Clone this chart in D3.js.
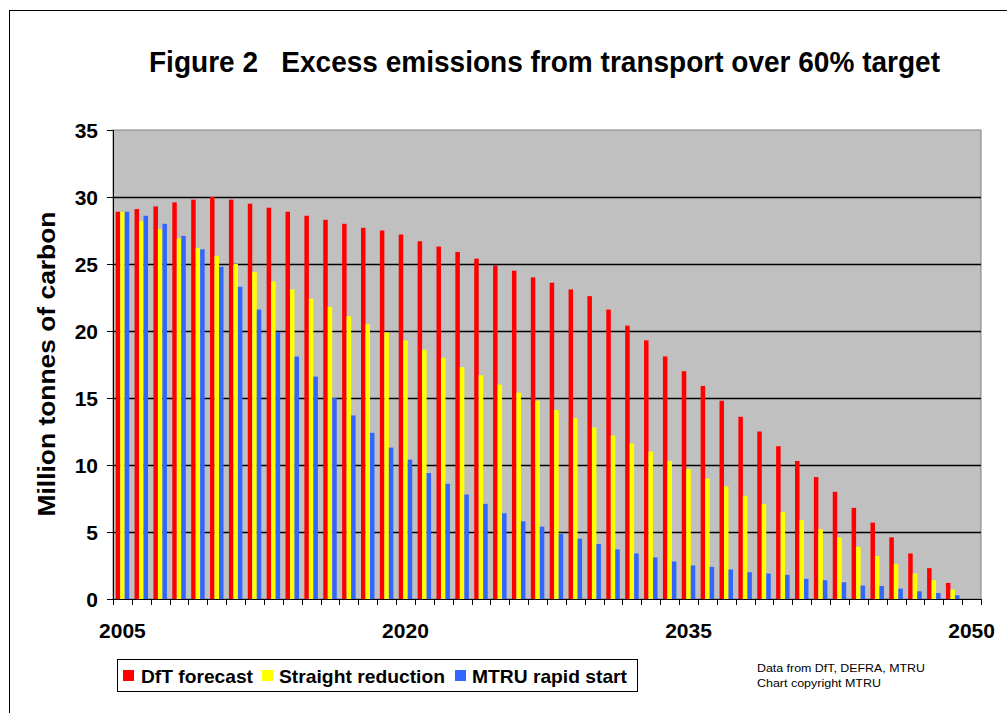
<!DOCTYPE html>
<html>
<head>
<meta charset="utf-8">
<script src="https://cdn.jsdelivr.net/npm/d3@7"></script>
<style>
  html, body { margin: 0; padding: 0; background: #fff; }
  svg { display: block; font-family: "Liberation Sans", Arial, sans-serif; }
</style>
</head>
<body>
<svg id="chart" width="1007" height="713"></svg>
<script>
// Years on the category axis (2050 is the end point with no excess)
const years = d3.range(2005, 2051);
const seriesNames = ["DfT forecast", "Straight reduction", "MTRU rapid start"];
const seriesColors = ["#ff0000", "#ffff00", "#3366ff"];

// Excess emissions, million tonnes of carbon
const dftForecast = [
  28.9, 29.1, 29.3, 29.6, 29.8, 30.0, 29.8, 29.5, 29.2, 28.9, 28.6, 28.3, 28.0, 27.7, 27.5, 27.2,
  26.7, 26.3, 25.9, 25.4, 24.9, 24.5, 24.0, 23.6, 23.1, 22.6, 21.6, 20.4, 19.3, 18.1,
  17.0, 15.9, 14.8, 13.6, 12.5, 11.4, 10.3, 9.1, 8.0, 6.8, 5.7, 4.6, 3.4, 2.3, 1.2, null
];
const straightReduction = [
  28.9, 28.2, 27.6, 26.9, 26.2, 25.6, 25.0, 24.4, 23.7, 23.1, 22.4, 21.8, 21.1, 20.5, 19.9,
  19.3, 18.6, 18.0, 17.3, 16.7, 16.0, 15.4, 14.8, 14.1, 13.5, 12.8, 12.2, 11.6, 11.0, 10.3,
  9.7, 9.0, 8.4, 7.7, 7.1, 6.5, 5.9, 5.2, 4.6, 3.9, 3.2, 2.6, 1.9, 1.4, 0.7, null
];
const mtruRapidStart = [
  28.9, 28.6, 28.0, 27.1, 26.1, 24.8, 23.3, 21.6, 19.9, 18.1, 16.6,
  15.0, 13.7, 12.4, 11.3,
  10.4, 9.4, 8.6, 7.8, 7.1, 6.4, 5.8, 5.4, 4.85, 4.5, 4.1, 3.7, 3.4, 3.1, 2.8,
  2.5, 2.4, 2.2, 2.0, 1.9, 1.8, 1.5, 1.4, 1.25, 1.0, 0.97, 0.77, 0.57, 0.45, 0.28, null
];
const yTicks = [0, 5, 10, 15, 20, 25, 30, 35];
const xLabelYears = [2005, 2020, 2035, 2050];

const allSeries = [dftForecast, straightReduction, mtruRapidStart];

const svg = d3.select("#chart");

// Outer frame of the figure
svg.append("rect")
  .attr("x", 9.5).attr("y", 10.5)
  .attr("width", 1010).attr("height", 720)
  .attr("fill", "none").attr("stroke", "#000").attr("stroke-width", 1);

// Title, bold and condensed
function fitText(sel, width) {
  sel.attr("textLength", width).attr("lengthAdjust", "spacingAndGlyphs");
  return sel;
}
fitText(svg.append("text")
  .attr("x", 149).attr("y", 72)
  .attr("font-size", 30).attr("font-weight", "bold").attr("fill", "#000")
  .attr("xml:space", "preserve")
  .text("Figure 2   Excess emissions from transport over 60% target"), 791);

// Plot area
const plot = { left: 113, right: 981, top: 130, bottom: 599 };

const x0 = d3.scaleBand().domain(years).range([plot.left, plot.right]).paddingInner(0).paddingOuter(0);
const x1 = d3.scaleBand().domain(d3.range(seriesNames.length)).range([0, x0.bandwidth()]).paddingInner(0).paddingOuter(0.6);
const y = d3.scaleLinear().domain([0, 35]).range([plot.bottom, plot.top]);

svg.append("rect")
  .attr("x", plot.left).attr("y", plot.top)
  .attr("width", plot.right - plot.left).attr("height", plot.bottom - plot.top)
  .attr("fill", "#c0c0c0").attr("stroke", "#808080").attr("stroke-width", 1);

// Horizontal gridlines
svg.append("g")
  .selectAll("line")
  .data(yTicks.filter(d => d > 0 && d < 35))
  .join("line")
  .attr("x1", plot.left).attr("x2", plot.right)
  .attr("y1", d => Math.round(y(d)) + 0.5).attr("y2", d => Math.round(y(d)) + 0.5)
  .attr("stroke", "#000").attr("stroke-width", 1.3);

// Bars
const groups = svg.append("g")
  .selectAll("g")
  .data(years)
  .join("g")
  .attr("transform", d => `translate(${x0(d)},0)`);

groups.selectAll("rect")
  .data((yr, i) => allSeries.map((s, k) => ({ k, v: s[i] })).filter(d => d.v != null))
  .join("rect")
  .attr("x", d => x1(d.k))
  .attr("width", x1.bandwidth())
  .attr("y", d => y(d.v))
  .attr("height", d => y(0) - y(d.v))
  .attr("fill", d => seriesColors[d.k]);

// Y axis
const yAxis = d3.axisLeft(y).tickValues(yTicks).tickSize(6).tickPadding(9).tickFormat(d3.format("d"));
const gy = svg.append("g").attr("transform", `translate(${plot.left},0)`).call(yAxis);
gy.select(".domain").attr("stroke", "#000");
gy.selectAll(".tick line").attr("stroke", "#000");
gy.selectAll("text").attr("font-size", 21).attr("font-weight", "bold").attr("fill", "#000")
  .attr("font-family", "Liberation Sans, Arial, sans-serif").attr("dy", "0.36em");

// X axis: ticks at every category boundary, labels every 15 years
const boundaries = years.map(d => x0(d)).concat([plot.right]);
const gx = svg.append("g");
gx.append("line")
  .attr("x1", plot.left).attr("x2", plot.right)
  .attr("y1", plot.bottom + 0.5).attr("y2", plot.bottom + 0.5)
  .attr("stroke", "#000");
gx.selectAll("line.tick")
  .data(boundaries)
  .join("line")
  .attr("class", "tick")
  .attr("x1", d => Math.round(d) + 0.5).attr("x2", d => Math.round(d) + 0.5)
  .attr("y1", plot.bottom).attr("y2", plot.bottom + 6)
  .attr("stroke", "#000");
gx.selectAll("text")
  .data(xLabelYears)
  .join("text")
  .attr("x", d => x0(d) + x0.bandwidth() / 2)
  .attr("y", 638)
  .attr("text-anchor", "middle")
  .attr("font-size", 21).attr("font-weight", "bold").attr("fill", "#000")
  .text(d => d);

// Y axis title
fitText(svg.append("text")
  .attr("transform", "translate(55,364) rotate(-90)")
  .attr("text-anchor", "middle")
  .attr("font-size", 23).attr("font-weight", "bold").attr("fill", "#000")
  .text("Million tonnes of carbon"), 305);

// Legend
const legend = svg.append("g");
legend.append("rect")
  .attr("x", 117.5).attr("y", 659.5).attr("width", 520).attr("height", 32)
  .attr("fill", "#fff").attr("stroke", "#000").attr("stroke-width", 1);
const legendItems = [
  { sw: 123, tx: 141, w: 112 },
  { sw: 262, tx: 279, w: 166 },
  { sw: 455, tx: 472, w: 155 }
];
legendItems.forEach((it, k) => {
  legend.append("rect")
    .attr("x", it.sw).attr("y", 670).attr("width", 11).attr("height", 11)
    .attr("fill", seriesColors[k]);
  fitText(legend.append("text")
    .attr("x", it.tx).attr("y", 683)
    .attr("font-size", 19).attr("font-weight", "bold").attr("fill", "#000")
    .text(seriesNames[k]), it.w);
});

// Source note
const note = svg.append("g").attr("font-size", 11).attr("fill", "#000");
fitText(note.append("text").attr("x", 757).attr("y", 672).text("Data from DfT, DEFRA, MTRU"), 168);
fitText(note.append("text").attr("x", 757).attr("y", 687).text("Chart copyright MTRU"), 124);
</script>
</body>
</html>
